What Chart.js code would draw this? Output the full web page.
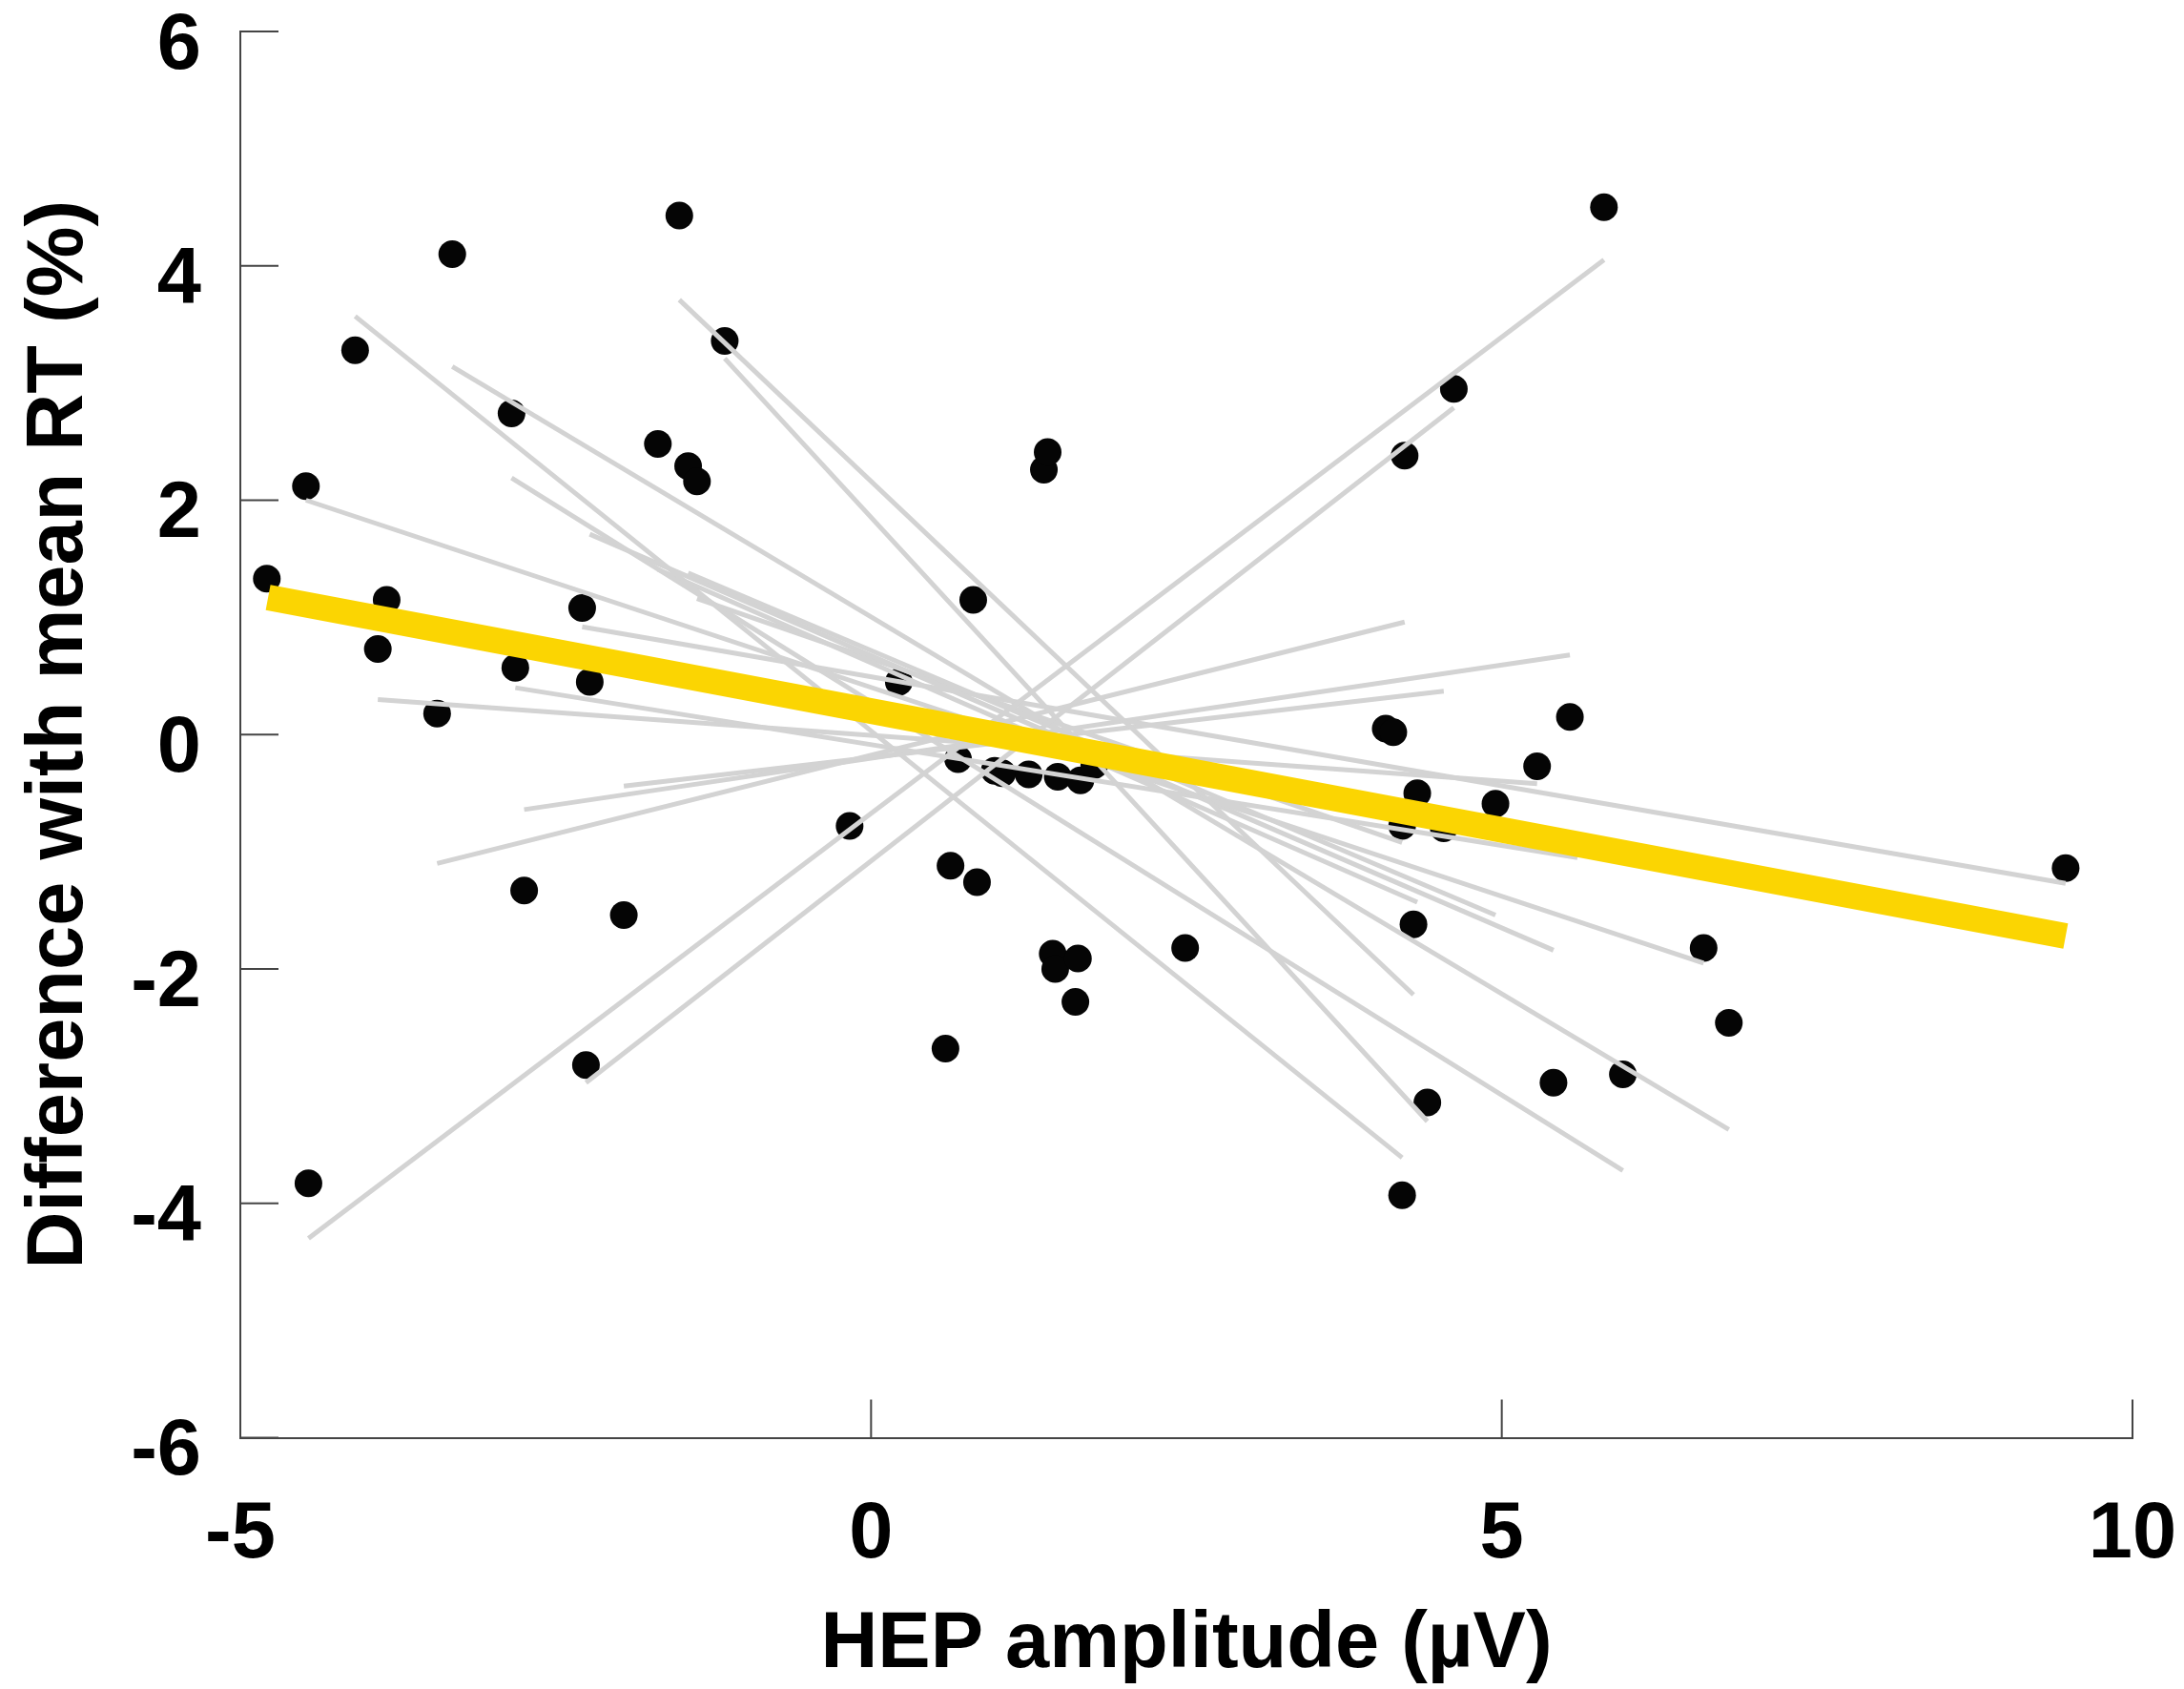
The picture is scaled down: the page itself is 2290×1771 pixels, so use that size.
<!DOCTYPE html>
<html>
<head>
<meta charset="utf-8">
<script src="https://cdn.jsdelivr.net/npm/chart.js@4.4.1/dist/chart.umd.min.js"></script>
<style>
  html, body { margin: 0; padding: 0; background: #fff; }
  #wrap { width: 2290px; height: 1771px; position: relative; }
</style>
</head>
<body>
<div id="wrap"><canvas id="hepChart"></canvas></div>
<script>
// single trials: HEP amplitude vs RT difference
const hepX = [-4.79, -4.48, -4.46, -4.09, -3.91, -3.84, -3.44, -3.32, -2.85, -2.82,
  -2.75, -2.29, -2.26, -2.23, -1.96, -1.69, -1.52, -1.45, -1.38, -1.16,
  -0.17, 0.22, 0.59, 0.63, 0.69, 0.81, 0.84, 0.98, 1.04, 1.25,
  1.37, 1.40, 1.44, 1.46, 1.48, 1.62, 1.64, 1.66, 1.77, 2.49,
  4.08, 4.14, 4.21, 4.23, 4.21, 4.30, 4.33, 4.41, 4.54, 4.62,
  4.95, 5.28, 5.41, 5.54, 5.81, 5.96, 6.60, 6.80, 9.47];
const rtDiff = [1.33, 2.12, -3.83, 3.28, 0.73, 1.15, 0.18, 4.10, 2.74, 0.57,
  -1.33, 1.08, -2.82, 0.45, -1.54, 2.48, 4.43, 2.29, 2.16, 3.36,
  -0.78, 0.45, -2.68, -1.12, -0.21, 1.15, -1.26, -0.31, -0.33, -0.34,
  2.26, 2.41, -1.87, -2.00, -0.36, -2.28, -1.91, -0.39, -0.26, -1.82,
  0.05, 0.02, -0.78, 2.38, -3.93, -1.62, -0.50, -3.14, -0.80, 2.95,
  -0.59, -0.27, -2.97, 0.15, 4.50, -2.90, -1.82, -2.46, -1.14];

// per-subject fits (start/end of each segment)
const fitX0 = [-4.46, -2.26, -4.09, -3.32, -1.52, -1.16, -2.85, -4.48, -2.23,
  -1.69, -1.45, -1.38, -2.29, -2.82, -3.91, -1.96, -2.75, -3.44];
const fitY0 = [-4.30, -2.97, 3.57, 3.14, 3.71, 3.21, 2.19, 2.00, 1.71,
  1.41, 1.38, 1.16, 0.92, 0.40, 0.30, -0.44, -0.64, -1.10];
const fitX1 = [5.81, 4.62, 4.21, 6.80, 4.30, 4.41, 5.96, 6.60, 5.41,
  4.33, 4.95, 4.21, 9.47, 5.60, 5.28, 4.54, 5.54, 4.23];
const fitY1 = [4.05, 2.79, -3.61, -3.37, -2.22, -3.30, -3.72, -1.95, -1.84,
  -1.43, -1.54, -0.92, -1.27, -1.05, -0.42, 0.37, 0.68, 0.96];

// group fit
const groupX = [-4.78, 9.47];
const groupY = [1.17, -1.72];

const xTicks = [-5, 0, 5, 10];
const yTicks = [-6, -4, -2, 0, 2, 4, 6];

const axisColor = '#444';
const tickLen = 40;

Chart.defaults.font.family = "'Liberation Sans', Arial, sans-serif";
Chart.defaults.font.weight = 'bold';
Chart.defaults.font.size = 83;
Chart.defaults.color = '#000';

// tick marks pointing into the plot
const innerTicks = {
  id: 'innerTicks',
  afterDraw(chart) {
    const { ctx, chartArea, scales } = chart;
    ctx.save();
    ctx.strokeStyle = axisColor;
    ctx.lineWidth = 2;
    ctx.beginPath();
    yTicks.forEach((v) => {
      const py = scales.y.getPixelForValue(v);
      ctx.moveTo(chartArea.left, py);
      ctx.lineTo(chartArea.left + tickLen, py);
    });
    xTicks.forEach((v) => {
      const px = scales.x.getPixelForValue(v);
      ctx.moveTo(px, chartArea.bottom);
      ctx.lineTo(px, chartArea.bottom - tickLen);
    });
    ctx.stroke();
    ctx.restore();
  },
};

const datasets = [];

datasets.push({
  type: 'line',
  data: groupX.map((x, i) => ({ x, y: groupY[i] })),
  borderColor: '#fbd502',
  borderWidth: 27,
  borderCapStyle: 'butt',
  pointRadius: 0,
  order: 0,
});

fitX0.forEach((x0, i) => {
  datasets.push({
    type: 'line',
    data: [{ x: x0, y: fitY0[i] }, { x: fitX1[i], y: fitY1[i] }],
    borderColor: '#d3d3d3',
    borderWidth: 5,
    pointRadius: 0,
    order: 1,
  });
});

datasets.push({
  type: 'scatter',
  data: hepX.map((x, i) => ({ x, y: rtDiff[i] })),
  backgroundColor: '#050505',
  borderWidth: 0,
  pointRadius: 14.5,
  order: 2,
});

const ctx = document.getElementById('hepChart').getContext('2d');
new Chart(ctx, {
  type: 'scatter',
  data: { datasets },
  plugins: [innerTicks],
  options: {
    responsive: true,
    maintainAspectRatio: false,
    devicePixelRatio: 1,
    animation: false,
    layout: { padding: { top: 33, right: 54, left: 0, bottom: 0 } },
    plugins: { legend: { display: false }, tooltip: { enabled: false } },
    scales: {
      x: {
        type: 'linear',
        min: -5,
        max: 10,
        afterBuildTicks: (s) => { s.ticks = xTicks.map((v) => ({ value: v })); },
        afterFit: (s) => { s.height = 263.5; s.paddingLeft = 0; s.paddingRight = 0; },
        grid: { display: false, drawTicks: false },
        border: { display: true, color: axisColor, width: 2 },
        ticks: { padding: 53, maxRotation: 0 },
        title: {
          display: true,
          text: 'HEP amplitude (µV)',
          font: { lineHeight: 1.1 },
          padding: { top: 0, bottom: 0 },
        },
      },
      y: {
        type: 'linear',
        min: -6,
        max: 6,
        afterBuildTicks: (s) => { s.ticks = yTicks.map((v) => ({ value: v })); },
        afterFit: (s) => { s.width = 252; s.paddingTop = 0; s.paddingBottom = 0; },
        grid: { display: false, drawTicks: false },
        border: { display: true, color: axisColor, width: 2 },
        ticks: { padding: 41, labelOffset: 16 },
        title: { display: true, text: 'Difference with mean RT (%)', padding: { top: 13, bottom: 0 } },
      },
    },
  },
});
</script>
</body>
</html>
